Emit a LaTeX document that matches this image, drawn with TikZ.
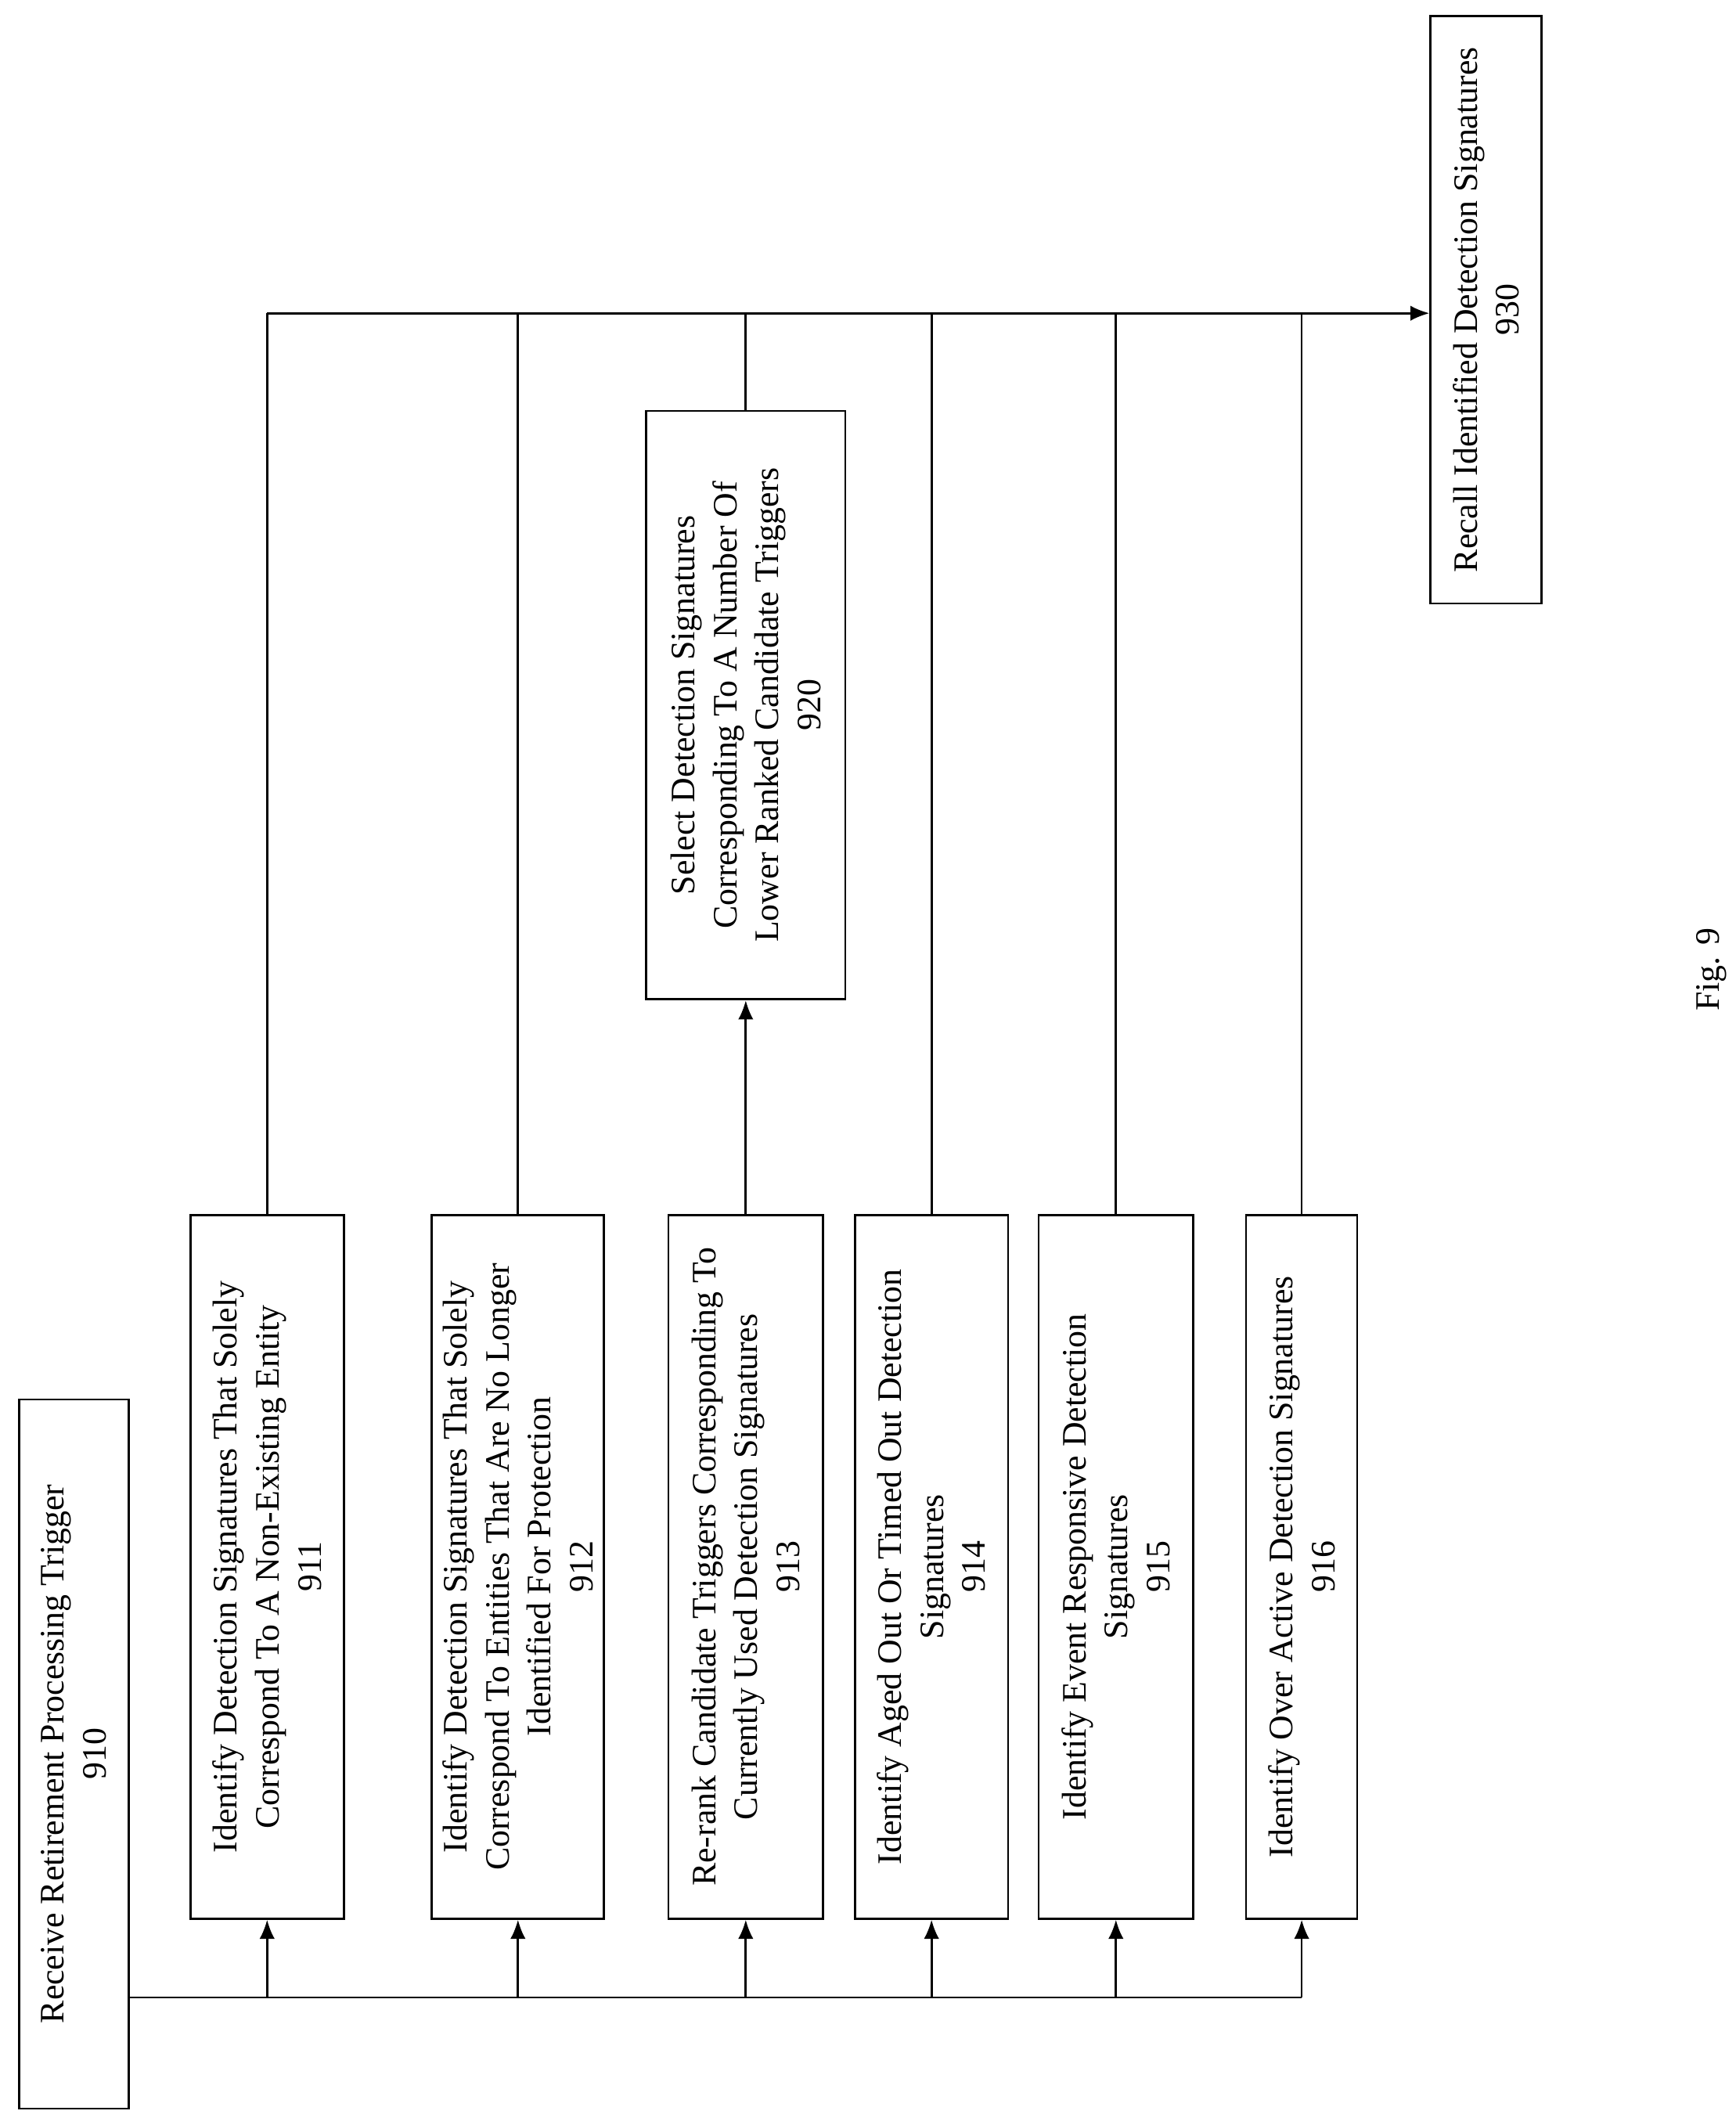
\documentclass[tikz,border=0pt]{standalone}
\usepackage{fontspec}
\setmainfont{Liberation Serif}
\usetikzlibrary{arrows.meta}
\begin{document}
\begin{tikzpicture}[x=0.05cm,y=-0.05cm,
  box/.style={draw,line width=2.2pt,rotate=90,align=center,inner sep=0pt,font=\fontsize{36}{44}\selectfont},
  ln/.style={line width=2.2pt},
  arr/.style={line width=2.2pt,-{Latex[length=20pt,width=16pt]}}]
\useasboundingbox (0,0) rectangle (1280,1562);
\node[box,minimum width=523*0.05cm,minimum height=81*0.05cm] (b910) at (54.5,1293.5) {Receive Retirement Processing Trigger\\910};
\node[box,minimum width=519*0.05cm,minimum height=113*0.05cm] (b911) at (197,1155.5) {Identify Detection Signatures That Solely\\Correspond To A Non-Existing Entity\\911};
\node[box,minimum width=519*0.05cm,minimum height=127*0.05cm] (b912) at (382,1155.5) {Identify Detection Signatures That Solely\\Correspond To Entities That Are No Longer\\Identified For Protection\\912};
\node[box,minimum width=519*0.05cm,minimum height=114*0.05cm] (b913) at (550,1155.5) {Re-rank Candidate Triggers Corresponding To\\Currently Used Detection Signatures\\913};
\node[box,minimum width=519*0.05cm,minimum height=113*0.05cm] (b914) at (687,1155.5) {Identify Aged Out Or Timed Out Detection\\Signatures\\914};
\node[box,minimum width=519*0.05cm,minimum height=114*0.05cm] (b915) at (823,1155.5) {Identify Event Responsive Detection\\Signatures\\915};
\node[box,minimum width=519*0.05cm,minimum height=82*0.05cm] (b916) at (960,1155.5) {Identify Over Active Detection Signatures\\916};
\node[box,minimum width=434*0.05cm,minimum height=147*0.05cm] (b920) at (550,520) {Select Detection Signatures\\Corresponding To A Number Of\\Lower Ranked Candidate Triggers\\920};
\node[box,minimum width=433*0.05cm,minimum height=82*0.05cm] (b930) at (1096,228.5) {Recall Identified Detection Signatures\\930};
\node[rotate=90,font=\fontsize{36}{44}\selectfont] (fig) at (1262,715) {Fig. 9};
\coordinate (bl) at (95,1473);
\coordinate (br) at (960,1473);
\coordinate (tl) at (197,231);
\draw[ln] (bl) -- (br);
\foreach \n in {911,912,913,914,915,916}{
  \draw[arr] (b\n |- bl) -- (b\n);
}
\foreach \n in {911,912,914,915,916}{
  \draw[ln] (b\n) -- (b\n |- tl);
}
\draw[arr] (b913) -- (b920);
\draw[ln] (b920) -- (b920 |- tl);
\draw[arr] (tl) -- (b930.north |- tl);
\end{tikzpicture}
\end{document}
